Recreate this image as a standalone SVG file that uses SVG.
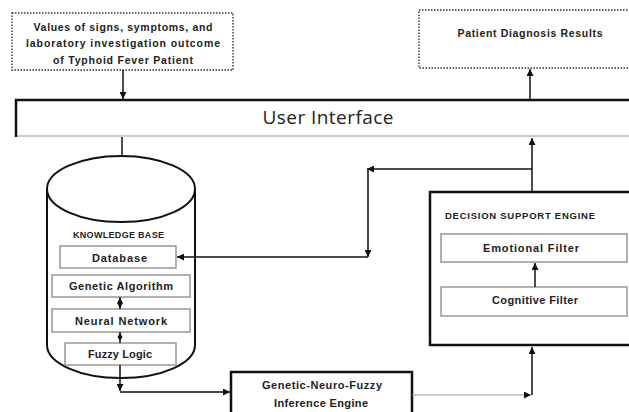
<svg xmlns="http://www.w3.org/2000/svg" width="629" height="412" viewBox="0 0 629 412">
<style>
.t{font-family:"Liberation Sans",Arial,sans-serif;font-weight:bold;fill:#222;text-anchor:middle}
.dot{fill:#fff;stroke:#333;stroke-width:1.4;stroke-dasharray:1.5 1.5}
.thick{fill:#fff;stroke:#111;stroke-width:2.5}
.inner{fill:#fff;stroke:#888;stroke-width:1.3}
.c{fill:none;stroke:#111;stroke-width:1.5}
</style>
<defs>
<marker id="ah" viewBox="0 0 10 10" refX="10" refY="5" markerWidth="7" markerHeight="7" markerUnits="userSpaceOnUse" orient="auto"><path d="M0,0 L10,5 L0,10 z" fill="#111"/></marker>
</defs>
<rect width="629" height="412" fill="#fff"/>

<g id="input">
<rect class="dot" x="12" y="13" width="221" height="57"/>
<text class="t" x="123" y="31" font-size="10.5" textLength="179">Values of signs, symptoms, and</text>
<text class="t" x="123" y="47" font-size="10.5" textLength="194">laboratory investigation outcome</text>
<text class="t" x="123" y="64" font-size="10.5" textLength="140">of Typhoid Fever Patient</text>
</g>

<g id="results">
<rect class="dot" x="419" y="10" width="215" height="58"/>
<text class="t" x="530" y="37" font-size="10.5" textLength="145">Patient Diagnosis Results</text>
</g>

<g id="ui">
<path d="M16,136 H632" stroke="#999" stroke-width="1.2" fill="none"/>
<path d="M16,137 V100 H632" stroke="#111" stroke-width="2.5" fill="none"/>
<text x="328" y="124" font-family="'Open Sans','Liberation Sans',sans-serif" font-size="19" fill="#222" text-anchor="middle" textLength="131">User Interface</text>
</g>

<g id="knowledge-base">
<path d="M47,189 V345 A74,33 0 0 0 195,345 V189" fill="#fff" stroke="#111" stroke-width="2"/>
<ellipse cx="121" cy="189" rx="74" ry="33" fill="#fff" stroke="#111" stroke-width="2"/>
<text class="t" x="118.5" y="238" font-size="9" textLength="91">KNOWLEDGE BASE</text>
</g>

<g id="database">
<rect class="inner" x="60" y="246" width="116" height="22"/>
<text class="t" x="119.5" y="262" font-size="11" textLength="55">Database</text>
</g>

<g id="genetic-algorithm">
<rect class="inner" x="52" y="275" width="138" height="22"/>
<text class="t" x="121" y="290" font-size="11" textLength="104">Genetic Algorithm</text>
</g>

<g id="neural-network">
<rect class="inner" x="52" y="309" width="138" height="23"/>
<text class="t" x="121" y="325" font-size="11" textLength="92">Neural Network</text>
</g>

<g id="fuzzy-logic">
<rect class="inner" x="65" y="343" width="111" height="22"/>
<text class="t" x="120" y="358" font-size="11" textLength="64">Fuzzy Logic</text>
</g>

<g id="inference-engine">
<rect class="thick" x="231" y="372" width="181" height="50"/>
<text class="t" x="322" y="389" font-size="11" textLength="120">Genetic-Neuro-Fuzzy</text>
<text class="t" x="321" y="407" font-size="11" textLength="94">Inference Engine</text>
</g>

<g id="decision-support-engine">
<rect class="thick" x="430" y="192" width="210" height="153"/>
<text class="t" x="445" y="219" font-size="9.5" style="text-anchor:start" textLength="150">DECISION SUPPORT ENGINE</text>
</g>

<g id="emotional-filter">
<rect class="inner" x="441" y="234" width="186" height="28"/>
<text class="t" x="531" y="252" font-size="11" textLength="96">Emotional Filter</text>
</g>

<g id="cognitive-filter">
<rect class="inner" x="441" y="287" width="186" height="29"/>
<text class="t" x="535" y="304" font-size="11" textLength="86">Cognitive Filter</text>
</g>

<g id="connectors">
<path class="c" d="M123,70 V99" marker-end="url(#ah)"/>
<path class="c" d="M530,100 V69" stroke-width="2" marker-end="url(#ah)"/>
<path class="c" d="M122,137 V156"/>
<path class="c" d="M532,192 V138" stroke-width="2" marker-end="url(#ah)"/>
<path class="c" d="M532,169 H367" marker-end="url(#ah)"/>
<path class="c" d="M368,169 V257" stroke-width="1.2" marker-end="url(#ah)"/>
<path class="c" d="M368,257 H177" stroke-width="1.2" marker-end="url(#ah)"/>
<path class="c" d="M120,297 V309"/>
<polygon points="120,298 123,303 120,308 117,303" fill="#111"/>
<path class="c" d="M120,332 V343"/>
<polygon points="120,333 122.5,337 120,341 117.5,337" fill="#111"/>
<path class="c" d="M120,365 V391" marker-end="url(#ah)"/>
<path class="c" d="M120,392 H230" marker-end="url(#ah)"/>
<path d="M412,395 H531" stroke="#999" stroke-width="1.2" fill="none" marker-end="url(#ah)"/>
<path class="c" d="M532,395 V347" stroke-width="2" marker-end="url(#ah)"/>
<path class="c" d="M535,287 V263" marker-end="url(#ah)"/>
</g>
</svg>
